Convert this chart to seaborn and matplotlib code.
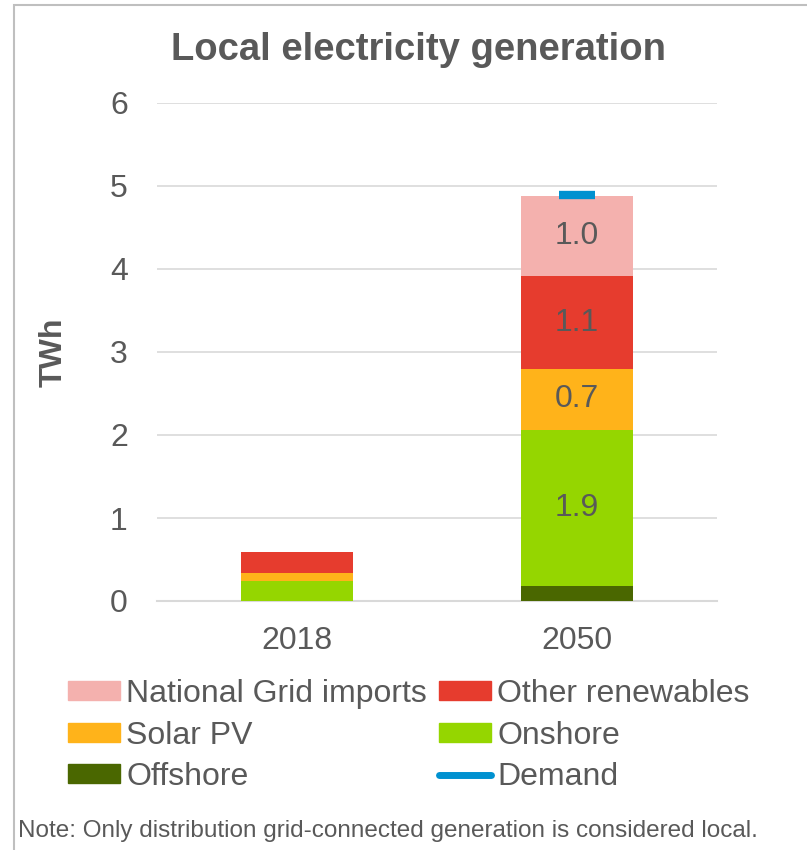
import numpy as np
import pandas as pd
import matplotlib
matplotlib.use("Agg")
import matplotlib.pyplot as plt
from matplotlib.patches import Patch, Rectangle
from matplotlib.lines import Line2D
import seaborn as sns

# data (TWh)
years = ["2018", "2050"]
offshore = [0.0, 0.18]
onshore = [0.24, 1.88]
solar_pv = [0.10, 0.74]
other_renewables = [0.25, 1.11]
grid_imports = [0.0, 0.97]
demand = [np.nan, 4.89]

layers = [
    ("Offshore", offshore, "#4A6700"),
    ("Onshore", onshore, "#95D600"),
    ("Solar PV", solar_pv, "#FFB31A"),
    ("Other renewables", other_renewables, "#E63C2E"),
    ("National Grid imports", grid_imports, "#F4B1AE"),
]
labelled = {"Onshore", "Solar PV", "Other renewables", "National Grid imports"}

sns.set_theme(style="white")
plt.rcParams["font.family"] = ["Liberation Sans", "DejaVu Sans"]
grey = "#595959"
fs = 23

fig = plt.figure(figsize=(8.07, 8.5), dpi=100)
ax = fig.add_axes([157 / 807, 1 - 601 / 850, 560 / 807, 498 / 850])

bottom = np.zeros(len(years))
for name, vals, col in layers:
    df = pd.DataFrame({"year": years, "value": vals})
    sns.barplot(data=df, x="year", y="value", color=col, width=0.4,
                bottom=bottom, ax=ax, saturation=1, errorbar=None,
                linewidth=0, zorder=3)
    if name in labelled:
        for i, v in enumerate(vals):
            if years[i] == "2050":
                ax.text(i, bottom[i] + v / 2, f"{v:.1f}", ha="center",
                        va="center", fontsize=fs, color=grey, zorder=4)
    bottom = bottom + np.array(vals)

# demand marker
for i, d in enumerate(demand):
    if not np.isnan(d):
        ax.plot([i - 0.065, i + 0.065], [d, d], color="#0091D0", lw=6,
                solid_capstyle="butt", zorder=5)

ax.set_ylim(0, 6)
ax.set_xlim(-0.5, 1.5)
ax.set_yticks(range(0, 7))
ax.yaxis.grid(True, color="#D9D9D9", lw=1.2, zorder=0)
ax.xaxis.grid(False)
for s in ["top", "right", "left"]:
    ax.spines[s].set_visible(False)
ax.spines["bottom"].set_color("#D9D9D9")
ax.spines["bottom"].set_linewidth(1.5)
ax.tick_params(axis="both", labelsize=fs, labelcolor=grey, length=0)
ax.tick_params(axis="y", pad=21)
ax.tick_params(axis="x", pad=18)
ax.set_xlabel("")
ax.set_ylabel("TWh", fontsize=fs, fontweight="bold", color=grey, labelpad=30)

fig.text(418 / 807, 1 - 50 / 850, "Local electricity generation", ha="center",
         va="center", fontsize=27.5, fontweight="bold", color=grey)

colors = {n: c for n, _, c in layers}
handles = [
    Patch(color=colors["National Grid imports"], label="National Grid imports"),
    Patch(color=colors["Solar PV"], label="Solar PV"),
    Patch(color=colors["Offshore"], label="Offshore"),
    Patch(color=colors["Other renewables"], label="Other renewables"),
    Patch(color=colors["Onshore"], label="Onshore"),
    Line2D([], [], color="#0091D0", lw=5, label="Demand"),
]
leg = fig.legend(handles=handles, ncol=2, loc="upper left",
                 bbox_to_anchor=(68 / 807, 1 - 679 / 850), frameon=False,
                 fontsize=fs, handlelength=1.63, handleheight=0.53,
                 handletextpad=0.19, columnspacing=0.38, labelspacing=0.36,
                 borderaxespad=0, borderpad=0)
for t in leg.get_texts():
    t.set_color(grey)

fig.text(18 / 807, 1 - 831 / 850,
         "Note: Only distribution grid-connected generation is considered local.",
         ha="left", va="center", fontsize=17.5, color=grey)

# light frame, cropped at right and bottom like the reference
fig.patches.append(Rectangle((14 / 807, -0.1), 1.2, 1.1 - 5 / 850,
                             transform=fig.transFigure, fill=False,
                             edgecolor="#BFBFBF", lw=1.5))

fig.savefig("out.png", dpi=100)
